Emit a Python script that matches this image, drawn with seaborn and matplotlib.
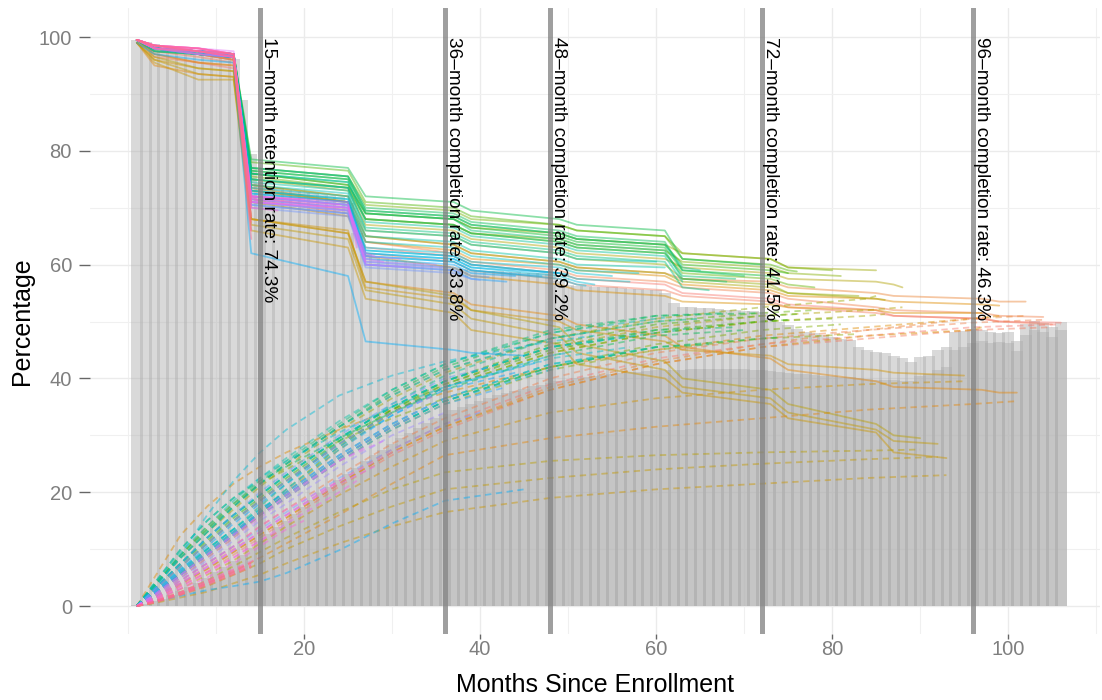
import math
import numpy as np
import pandas as pd
import matplotlib
matplotlib.use("Agg")
import matplotlib.pyplot as plt
import seaborn as sns

# ---------------- data ----------------
months = list(range(1, 107))

retention_all = [
    99.4, 99.1, 98.7, 98.4, 98.1, 97.9, 97.6, 97.4, 97.2, 97.0, 96.7, 96.2,
    89.0, 79.5, 74.3, 73.8, 73.5, 73.2, 73.0, 72.8, 72.6, 72.3, 72.1, 71.8,
    70.8, 65.5, 61.8, 61.3, 61.0, 60.8, 60.6, 60.4, 60.2, 60.0, 59.9, 59.8,
    59.6, 59.2, 59.0, 58.9, 58.8, 58.8, 58.7, 58.7, 58.6, 58.6, 58.5, 58.3,
    57.2, 56.5, 56.3, 56.2, 56.1, 56.0, 56.0, 55.9, 55.8, 55.7, 55.6, 55.5,
    55.0, 53.2, 52.6, 52.5, 52.4, 52.3, 52.2, 52.1, 52.0, 51.9, 51.8, 51.6,
    50.6, 50.0, 49.4, 48.6, 48.2, 47.9, 47.6, 47.3, 47.0, 46.8, 45.6, 45.0,
    44.6, 44.5, 44.0, 43.6, 42.8, 43.8, 44.0, 45.0, 45.6, 48.2, 48.4, 48.6,
    48.5, 48.1, 48.0, 48.1, 46.5, 49.5, 50.1, 49.8, 49.0, 50.0,
]

completion_all = [
    0.1, 0.4, 0.8, 1.3, 1.9, 2.6, 3.3, 4.1, 5.0, 5.9, 6.9, 7.9,
    9.0, 10.2, 11.4, 12.6, 13.8, 15.0, 16.2, 17.4, 18.6, 19.8, 21.0, 22.1,
    23.2, 24.3, 25.4, 26.5, 27.5, 28.5, 29.5, 30.4, 31.3, 32.2, 33.0, 33.8,
    34.4, 35.0, 35.5, 36.0, 36.5, 37.0, 37.4, 37.8, 38.2, 38.6, 38.9, 39.2,
    39.5, 39.8, 40.0, 40.2, 40.4, 40.6, 40.8, 41.0, 41.1, 41.2, 41.3, 41.4,
    41.4, 41.5, 41.5, 41.6, 41.6, 41.6, 41.7, 41.7, 41.6, 41.6, 41.5, 41.5,
    41.3, 41.1, 40.9, 40.8, 40.7, 40.6, 40.5, 40.4, 40.3, 40.2, 40.0, 39.9,
    39.8, 39.8, 39.7, 39.6, 39.5, 40.5, 40.8, 41.5, 42.0, 45.0, 45.6, 46.3,
    46.5, 46.2, 46.4, 46.3, 44.8, 47.6, 48.5, 48.2, 47.3, 48.5,
]

# knot months at which each cohort curve was read
ret_knots = [1, 3, 8, 12, 14, 25, 27, 37, 39, 49, 51, 61, 63, 73, 75, 85, 87, 97, 99]
comp_knots = [1, 3, 6, 9, 12, 15, 18, 24, 30, 36, 48, 60, 72, 84, 96]

cohort_end = [106, 105, 104, 102, 101, 99, 97, 95, 93, 92, 90, 88, 86, 85, 83,
              81, 80, 78, 76, 75, 74, 72, 70, 69, 68, 66, 65, 63, 61, 60, 58,
              57, 55, 53, 52, 50, 49, 47, 45, 44, 43, 41, 40, 38, 36, 35, 32,
              31, 29, 28, 27, 26, 24, 20, 17, 15, 14, 14, 14, 14, 14, 14]

ret_vals = [
    [99.5, 97.0, 95.5, 94.5, 72.0, 69.5, 63.0, 61.5, 60.0, 58.5, 57.5, 56.5, 55.0, 54.0, 53.0, 52.0, 51.0, 50.5, 50.0, 49.8],
    [99.0, 97.5, 96.5, 95.5, 71.5, 69.0, 62.0, 60.5, 59.0, 57.5, 56.5, 55.5, 54.5, 53.5, 52.5, 51.5, 51.0, 50.5, 50.0, 49.5],
    [99.0, 96.5, 95.5, 95.0, 73.0, 71.0, 64.0, 62.0, 60.5, 59.0, 58.0, 57.0, 56.0, 55.0, 54.0, 52.5, 52.0, 51.5, 51.0, 50.8],
    [99.5, 98.0, 97.0, 96.0, 74.0, 72.0, 65.0, 63.5, 62.0, 60.5, 59.5, 58.5, 57.5, 57.0, 56.0, 55.0, 54.5, 54.0, 53.5, 53.5],
    [99.0, 95.0, 93.5, 93.0, 68.0, 65.5, 57.0, 55.0, 53.0, 51.0, 49.5, 47.5, 45.5, 43.5, 41.5, 39.5, 38.5, 38.0, 37.5, 37.5],
    [99.5, 98.0, 97.0, 96.0, 73.5, 71.0, 64.0, 62.5, 61.0, 60.0, 59.0, 58.0, 56.5, 55.5, 54.5, 54.0, 53.5, 53.0, 52.8],
    [99.5, 97.0, 95.5, 95.0, 71.0, 68.5, 61.5, 59.5, 58.0, 56.5, 55.5, 54.5, 53.5, 53.0, 52.5, 52.0, 51.5, 51.5],
    [99.0, 96.0, 94.5, 94.0, 68.0, 66.0, 56.0, 54.0, 52.0, 50.0, 48.5, 46.5, 45.0, 44.0, 42.5, 41.5, 41.0, 40.5],
    [99.0, 95.5, 92.5, 92.5, 66.0, 63.0, 54.0, 51.5, 48.5, 46.0, 42.5, 40.0, 37.5, 35.5, 33.0, 30.5, 27.0, 26.0],
    [99.0, 96.0, 93.5, 93.0, 67.0, 64.5, 55.5, 53.0, 50.5, 47.5, 44.5, 41.5, 38.5, 36.5, 34.0, 31.0, 29.0, 28.5],
    [99.5, 96.5, 94.5, 94.0, 68.0, 65.5, 57.0, 54.5, 52.0, 49.0, 46.0, 43.0, 40.0, 38.0, 35.5, 32.0, 30.0, 29.5],
    [99.5, 98.0, 97.5, 96.5, 75.0, 73.0, 67.0, 66.0, 64.5, 63.0, 62.0, 61.0, 59.5, 58.5, 57.5, 57.0, 56.5, 56.0],
    [99.5, 97.5, 97.0, 96.0, 73.0, 71.0, 65.0, 63.5, 62.0, 60.5, 59.5, 58.5, 57.0, 56.0, 55.0, 54.0, 53.8],
    [99.5, 98.0, 97.5, 97.0, 76.0, 74.0, 69.0, 68.0, 66.5, 65.5, 64.5, 63.5, 62.0, 61.0, 59.5, 59.0],
    [99.5, 98.0, 97.0, 96.5, 74.0, 72.0, 66.0, 65.0, 63.5, 62.0, 61.0, 60.0, 57.5, 56.5, 55.0, 54.5],
    [99.5, 98.0, 97.5, 96.5, 75.0, 73.5, 68.0, 67.0, 65.5, 64.5, 63.5, 62.5, 60.5, 59.5, 58.5, 58.0],
    [99.5, 98.0, 97.5, 97.0, 77.0, 75.5, 70.5, 69.5, 68.0, 67.0, 66.0, 65.0, 62.0, 61.0, 59.5, 59.0],
    [99.5, 97.5, 97.0, 96.5, 75.5, 73.5, 68.0, 67.0, 65.5, 64.0, 63.0, 62.0, 58.5, 57.5, 56.5, 56.0],
    [99.5, 98.0, 97.5, 97.0, 78.0, 76.5, 71.0, 70.0, 68.5, 67.0, 66.0, 65.0, 61.0, 60.0, 59.0, 58.8],
    [99.5, 98.0, 97.0, 96.5, 76.5, 75.0, 69.5, 68.5, 67.0, 65.5, 64.5, 63.5, 60.0, 59.0, 58.5],
    [99.5, 98.0, 97.0, 96.5, 76.0, 74.0, 69.0, 68.0, 66.5, 65.0, 64.0, 63.0, 59.0, 58.0, 57.5],
    [99.5, 98.0, 97.5, 97.0, 78.5, 77.0, 72.0, 71.0, 69.5, 68.0, 67.0, 66.0, 61.0, 60.0],
    [99.5, 98.0, 97.0, 96.5, 77.0, 75.5, 70.0, 69.0, 67.5, 66.0, 65.0, 64.0, 59.0, 58.0],
    [99.5, 98.0, 97.5, 96.5, 76.0, 74.5, 68.0, 67.0, 65.5, 64.0, 63.0, 62.0, 58.0, 57.5],
    [99.5, 98.0, 97.5, 97.0, 76.5, 75.0, 69.0, 68.0, 66.0, 64.5, 63.5, 62.5, 57.5, 57.0],
    [99.5, 97.5, 97.0, 96.5, 75.0, 73.5, 66.5, 65.5, 64.0, 62.5, 61.5, 60.5, 56.0, 55.5],
    [99.5, 98.0, 97.5, 97.0, 77.0, 75.5, 69.5, 68.5, 67.0, 65.5, 64.5, 63.5, 59.5, 59.0],
    [99.5, 98.0, 97.5, 97.0, 76.0, 74.5, 67.5, 66.5, 65.0, 63.5, 62.5, 61.5, 57.0],
    [99.5, 98.0, 97.0, 96.5, 74.5, 73.0, 65.0, 64.0, 62.5, 61.0, 60.0, 59.5],
    [99.5, 98.0, 97.5, 97.0, 75.0, 73.5, 66.0, 65.0, 63.5, 62.0, 61.0, 60.5],
    [99.5, 98.0, 97.5, 97.0, 74.0, 72.5, 64.0, 63.0, 61.5, 60.0, 59.0, 58.5],
    [99.5, 97.5, 97.0, 96.5, 73.0, 71.5, 62.5, 61.5, 60.0, 58.5, 57.5, 57.0],
    [99.5, 98.0, 97.0, 96.5, 73.5, 72.0, 63.0, 62.0, 60.5, 59.5, 58.5, 58.0],
    [99.5, 98.0, 97.5, 97.0, 73.0, 71.5, 62.0, 61.0, 59.5, 58.0, 57.0, 56.5],
    [99.5, 98.0, 97.0, 96.5, 72.0, 70.5, 61.5, 60.5, 59.0, 57.5, 56.5, 56.3],
    [99.5, 98.0, 97.0, 96.5, 72.5, 71.0, 62.5, 61.5, 60.0, 58.5, 58.3],
    [99.5, 98.0, 97.5, 97.0, 72.5, 71.0, 62.0, 61.0, 59.5, 58.5],
    [99.5, 98.0, 97.5, 97.0, 72.0, 70.5, 61.5, 60.5, 59.0, 58.0],
    [99.0, 97.0, 96.0, 95.5, 62.0, 58.0, 46.5, 45.0, 44.5, 44.0],
    [99.5, 98.0, 97.0, 96.5, 71.5, 70.0, 61.0, 60.0, 58.5, 58.0],
    [99.5, 98.0, 97.5, 97.0, 70.5, 69.0, 60.0, 59.0, 57.5, 57.0],
    [99.5, 98.0, 97.5, 97.0, 71.0, 69.5, 60.5, 59.5, 58.0, 57.8],
    [99.5, 98.0, 97.0, 96.5, 70.0, 68.5, 59.5, 58.5, 57.5, 57.3],
    [99.5, 98.0, 97.0, 96.5, 70.5, 69.0, 60.0, 59.0, 58.5],
    [99.5, 98.5, 97.5, 97.0, 71.0, 69.5, 60.0, 59.5],
    [99.5, 98.0, 97.5, 97.0, 71.0, 69.5, 60.5, 60.0],
    [99.5, 98.0, 97.0, 96.5, 71.5, 70.0, 60.0, 59.5],
    [99.5, 98.5, 97.5, 97.0, 72.0, 70.5, 61.5, 61.0],
    [99.5, 98.0, 97.5, 97.0, 72.0, 70.5, 61.0, 60.5],
    [99.5, 98.5, 98.0, 97.5, 71.0, 70.0, 62.0, 61.5],
    [99.5, 98.0, 97.5, 96.5, 71.0, 70.0, 60.5],
    [99.5, 98.5, 98.0, 97.0, 72.0, 71.0, 63.0],
    [99.5, 98.5, 97.5, 96.5, 71.5, 70.5],
    [99.5, 98.5, 98.0, 97.0, 72.0, 71.5],
    [99.5, 98.5, 97.5, 96.5, 70.0, 69.5],
    [99.5, 98.5, 98.0, 97.0, 72.0, 71.0],
    [99.5, 98.5, 97.5, 96.5, 66.0],
    [99.5, 98.5, 98.0, 97.0, 68.5],
    [99.5, 98.0, 97.0, 96.0, 70.0],
    [99.5, 98.5, 98.0, 97.0, 64.5],
    [99.5, 98.0, 97.5, 96.5, 67.5],
    [99.5, 98.5, 97.5, 97.0, 71.0],
]

comp_vals = [
    [0, 1.5, 4.0, 7.0, 10.0, 13.0, 16.0, 22.0, 27.5, 32.0, 39.0, 43.5, 46.0, 47.5, 49.0, 49.5],
    [0, 1.2, 3.5, 6.0, 9.0, 12.0, 15.0, 21.0, 26.5, 31.0, 38.0, 42.5, 45.5, 47.0, 48.5, 49.0],
    [0, 1.6, 4.5, 7.5, 10.5, 14.0, 17.0, 23.0, 28.5, 33.0, 40.0, 44.5, 47.0, 48.5, 49.8, 50.3],
    [0, 1.3, 3.8, 6.5, 9.5, 12.5, 15.5, 21.5, 27.0, 31.5, 38.5, 43.0, 46.0, 48.5, 50.5, 51.0],
    [0, 0.8, 2.2, 4.0, 6.0, 8.5, 11.0, 16.0, 21.5, 26.5, 29.5, 31.5, 33.0, 34.5, 35.5, 36.0],
    [0, 5.0, 12.5, 17.5, 21.5, 24.5, 27.0, 31.0, 34.5, 37.5, 42.0, 45.0, 47.5, 49.0, 50.5, 51.0],
    [0, 1.5, 4.0, 6.5, 9.5, 12.5, 15.5, 21.5, 27.0, 31.5, 38.0, 42.5, 45.5, 47.5, 48.5, 49.0],
    [0, 1.0, 3.0, 5.5, 8.0, 11.0, 14.0, 19.5, 24.5, 29.0, 34.0, 36.5, 38.0, 39.0, 39.5],
    [0, 0.5, 1.5, 2.5, 4.0, 5.5, 7.5, 11.0, 14.0, 16.5, 19.0, 20.5, 21.5, 22.5, 23.0],
    [0, 0.6, 2.0, 3.5, 5.5, 7.5, 10.0, 14.0, 17.5, 20.5, 22.5, 24.0, 25.0, 25.8, 26.2],
    [0, 0.8, 2.5, 4.5, 7.0, 9.5, 12.0, 16.5, 20.5, 23.5, 25.5, 26.5, 27.0, 27.3, 27.5],
    [0, 1.8, 5.0, 8.5, 12.0, 16.0, 20.0, 27.5, 34.0, 39.0, 45.5, 49.0, 51.0, 52.0, 52.5],
    [0, 2.8, 7.0, 11.0, 15.0, 18.5, 22.0, 28.5, 34.0, 38.5, 44.5, 48.0, 50.0, 51.0, 51.3],
    [0, 3.5, 8.5, 13.0, 17.0, 21.0, 24.5, 31.0, 36.5, 41.0, 47.0, 50.5, 52.5, 54.0, 54.5],
    [0, 2.0, 5.5, 9.0, 12.5, 16.0, 19.0, 25.5, 31.0, 35.5, 41.5, 45.0, 47.0, 47.8],
    [0, 3.5, 9.0, 14.0, 18.0, 21.5, 24.0, 29.0, 33.0, 36.5, 42.0, 46.0, 48.5, 49.5],
    [0, 2.8, 7.0, 11.0, 15.0, 18.5, 22.0, 28.5, 34.0, 38.5, 44.5, 48.0, 50.0, 50.5],
    [0, 3.8, 9.0, 13.5, 17.5, 21.5, 25.0, 31.5, 37.0, 41.5, 47.0, 50.0, 51.5, 52.0],
    [0, 2.0, 5.5, 9.0, 12.5, 16.5, 20.5, 28.0, 34.5, 39.5, 46.0, 49.5, 51.0, 51.3],
    [0, 3.0, 7.5, 11.5, 15.5, 19.0, 22.5, 29.0, 34.5, 39.0, 45.0, 48.5, 50.0, 50.3],
    [0, 2.2, 5.8, 9.5, 13.0, 16.5, 19.5, 26.0, 31.5, 36.0, 42.0, 45.5, 47.0, 47.2],
    [0, 3.5, 8.5, 13.0, 17.5, 21.5, 25.0, 31.5, 37.5, 42.0, 48.0, 51.0, 51.5],
    [0, 4.0, 10.0, 15.0, 19.0, 22.0, 24.5, 29.5, 34.0, 38.0, 44.0, 47.5, 48.5],
    [0, 3.0, 7.5, 12.0, 16.0, 19.5, 23.0, 29.5, 35.0, 39.5, 45.5, 48.5, 49.0],
    [0, 3.5, 9.0, 13.5, 18.0, 22.0, 25.5, 32.0, 38.0, 42.5, 48.5, 51.0, 51.5],
    [0, 2.2, 6.0, 9.5, 13.0, 16.5, 19.5, 26.0, 31.5, 36.0, 42.0, 45.5, 46.0],
    [0, 2.2, 6.0, 10.0, 13.5, 17.5, 21.5, 29.0, 35.5, 40.5, 47.0, 50.0, 50.5],
    [0, 3.0, 7.5, 12.0, 16.0, 19.5, 23.0, 29.5, 35.0, 39.5, 45.5, 48.0, 48.5],
    [0, 3.8, 9.5, 14.0, 18.5, 22.5, 26.0, 32.5, 38.0, 42.5, 48.0, 50.5, 50.7],
    [0, 2.5, 6.5, 10.0, 13.5, 17.0, 20.0, 26.5, 32.0, 36.5, 42.5, 45.5],
    [0, 3.0, 7.5, 12.0, 16.0, 19.5, 23.0, 29.5, 35.0, 39.5, 45.5, 47.5],
    [0, 4.0, 10.0, 15.0, 19.0, 22.5, 25.5, 30.5, 35.0, 38.5, 43.5, 45.5],
    [0, 2.3, 6.2, 10.0, 13.5, 17.0, 20.0, 26.5, 32.0, 36.5, 42.5, 44.0],
    [0, 3.0, 9.0, 16.0, 22.0, 27.0, 31.0, 37.0, 40.5, 43.0, 46.5, 47.5],
    [0, 3.5, 8.5, 13.0, 17.5, 21.5, 25.0, 31.5, 37.0, 41.5, 47.0, 48.0],
    [0, 2.8, 7.0, 11.0, 15.0, 18.5, 22.0, 28.5, 34.0, 38.5, 44.0, 44.5],
    [0, 2.2, 6.0, 9.5, 13.0, 16.5, 19.5, 26.0, 31.5, 36.0, 41.5, 41.8],
    [0, 2.0, 5.5, 9.0, 12.5, 16.5, 20.5, 27.5, 33.5, 38.5, 43.0],
    [0, 0.8, 1.8, 2.8, 3.5, 4.3, 5.8, 9.8, 14.5, 18.5, 20.5],
    [0, 2.5, 6.5, 10.5, 14.5, 18.0, 21.5, 28.0, 33.5, 38.0, 41.0],
    [0, 2.0, 5.5, 9.0, 12.5, 16.0, 19.0, 25.5, 31.0, 35.5, 38.5],
    [0, 3.0, 7.5, 12.0, 16.0, 20.0, 23.5, 30.0, 35.5, 40.0, 42.0],
    [0, 1.5, 4.5, 7.5, 10.5, 13.5, 16.5, 22.5, 27.5, 32.0, 34.0],
    [0, 2.3, 6.0, 9.5, 13.0, 16.5, 20.0, 26.5, 32.0, 36.5, 37.5],
    [0, 1.8, 5.0, 8.0, 11.5, 15.0, 18.0, 24.5, 30.0, 34.0],
    [0, 2.8, 7.0, 11.0, 15.0, 18.5, 22.0, 28.5, 34.0, 37.0],
    [0, 2.0, 5.5, 9.0, 12.5, 16.0, 19.5, 26.0, 31.5, 33.0],
    [0, 1.3, 4.0, 6.8, 9.8, 13.0, 16.0, 22.0, 27.0, 27.5],
    [0, 1.8, 5.0, 8.5, 12.0, 15.5, 19.0, 25.5, 29.0],
    [0, 1.3, 4.0, 6.8, 9.8, 13.0, 16.0, 21.5, 24.5],
    [0, 2.0, 5.5, 9.0, 12.5, 16.0, 19.5, 25.5, 28.0],
    [0, 1.0, 3.2, 5.8, 8.5, 11.5, 14.5, 20.0, 22.0],
    [0, 1.5, 4.5, 7.5, 10.5, 14.0, 17.0, 22.0],
    [0, 1.0, 3.0, 5.0, 7.5, 10.5, 13.5, 15.0],
    [0, 1.2, 3.5, 6.0, 8.5, 11.5, 13.0],
    [0, 0.8, 2.5, 4.5, 6.5, 8.5],
    [0, 0.8, 2.3, 4.2, 6.2, 7.5],
    [0, 0.7, 2.2, 4.0, 6.0, 7.2],
    [0, 0.6, 2.0, 3.8, 5.7, 7.0],
    [0, 0.7, 2.1, 3.9, 5.8, 7.1],
    [0, 0.8, 2.4, 4.3, 6.3, 7.6],
    [0, 0.6, 1.9, 3.6, 5.5, 6.8],
]

marker_months = [15, 36, 48, 72, 96]
marker_labels = [
    "15\u2013month retention rate: 74.3%",
    "36\u2013month completion rate: 33.8%",
    "48\u2013month completion rate: 39.2%",
    "72\u2013month completion rate: 41.5%",
    "96\u2013month completion rate: 46.3%",
]

# ---------------- helpers ----------------
def hcl_hex(h, c=100.0, l=65.0):
    """ggplot2-style hue colour (polarLUV -> sRGB)."""
    hr = math.radians(h)
    u, v = c * math.cos(hr), c * math.sin(hr)
    xn, yn, zn = 95.047, 100.0, 108.883
    un = 4 * xn / (xn + 15 * yn + 3 * zn)
    vn = 9 * yn / (xn + 15 * yn + 3 * zn)
    y = yn * ((l + 16) / 116) ** 3
    up = u / (13 * l) + un
    vp = v / (13 * l) + vn
    x = y * 9 * up / (4 * vp)
    z = y * (12 - 3 * up - 20 * vp) / (4 * vp)
    x, y, z = x / 100, y / 100, z / 100
    rgb = [3.2404542 * x - 1.5371385 * y - 0.4985314 * z,
           -0.9692660 * x + 1.8760108 * y + 0.0415560 * z,
           0.0556434 * x - 0.2040259 * y + 1.0572252 * z]
    out = []
    for ch in rgb:
        ch = min(max(ch, 0.0), 1.0)
        ch = 12.92 * ch if ch <= 0.0031308 else 1.055 * ch ** (1 / 2.4) - 0.055
        out.append(min(max(ch, 0.0), 1.0))
    return tuple(out)

# ---------------- long table ----------------
n = len(cohort_end)
assert len(ret_vals) == n and len(comp_vals) == n
rows = []
for i in range(n):
    end = cohort_end[i]
    rm = [k for k in ret_knots if k < end] + [end]
    cm = [k for k in comp_knots if k < end] + [end]
    assert len(rm) == len(ret_vals[i]), ("ret", i, len(rm), len(ret_vals[i]))
    assert len(cm) == len(comp_vals[i]), ("comp", i, len(cm), len(comp_vals[i]))
    name = f"c{i:02d}"
    for m, val in zip(rm, ret_vals[i]):
        rows.append((m, val, name, "Retention"))
    for m, val in zip(cm, comp_vals[i]):
        rows.append((m, val, name, "Completion"))
df = pd.DataFrame(rows, columns=["month", "value", "cohort", "kind"])

palette = {f"c{i:02d}": hcl_hex(15 + 360.0 * i / n) for i in range(n)}

# ---------------- plot ----------------
sns.set_theme(style="white")
plt.rcParams["font.family"] = ["Liberation Sans", "DejaVu Sans"]

fig = plt.figure(figsize=(11.02, 7.0), dpi=100)
ax = fig.add_axes([90 / 1102, 66 / 700, 1010 / 1102, 626 / 700])

ax.set_xlim(-4.32, 110.45)
ax.set_ylim(-4.92, 105.1)

# grid
for gx in [0, 10, 30, 50, 70, 90, 110]:
    ax.axvline(gx, color="#f0f0f0", lw=0.8, zorder=0)
for gx in [20, 40, 60, 80, 100]:
    ax.axvline(gx, color="#ebebeb", lw=1.0, zorder=0)
for gy in [10, 30, 50, 70, 90]:
    ax.axhline(gy, color="#f0f0f0", lw=0.8, zorder=0)
for gy in [0, 20, 40, 60, 80, 100]:
    ax.axhline(gy, color="#ebebeb", lw=1.0, zorder=0)

# aggregate bars
ax.bar(months, retention_all, width=1.34, color="#afafaf", alpha=0.47,
       linewidth=0, zorder=1)
ax.bar(months, completion_all, width=1.34, color="#afafaf", alpha=0.47,
       linewidth=0, zorder=1.1)

# cohort lines
sns.lineplot(data=df, x="month", y="value", hue="cohort", style="kind",
             palette=palette,
             dashes={"Retention": "", "Completion": (3.5, 2.5)},
             estimator=None, sort=False, legend=False,
             alpha=0.45, linewidth=1.3, ax=ax, zorder=2)

# milestone lines and labels
for mm, lab in zip(marker_months, marker_labels):
    ax.axvline(mm, color="#7f7f7f", alpha=0.75, lw=3.6, zorder=3)
    ax.text(mm + 0.45, 100, lab, rotation=-90, rotation_mode="anchor",
            ha="left", va="baseline", fontsize=13.7, color="black", zorder=4)

for s in ax.spines.values():
    s.set_visible(False)

ax.set_xticks([20, 40, 60, 80, 100])
ax.set_yticks([0, 20, 40, 60, 80, 100])
ax.tick_params(axis="both", which="major", width=1.0, color="#666666",
               labelcolor="#7f7f7f", labelsize=14.5, bottom=True, left=True)
ax.tick_params(axis="y", length=8, pad=5)
ax.tick_params(axis="x", length=3.5, pad=1)
ax.set_xlabel("Months Since Enrollment", fontsize=18, color="black", labelpad=10)
ax.set_ylabel("Percentage", fontsize=18, color="black", labelpad=3)

fig.savefig("out.png", dpi=100)
